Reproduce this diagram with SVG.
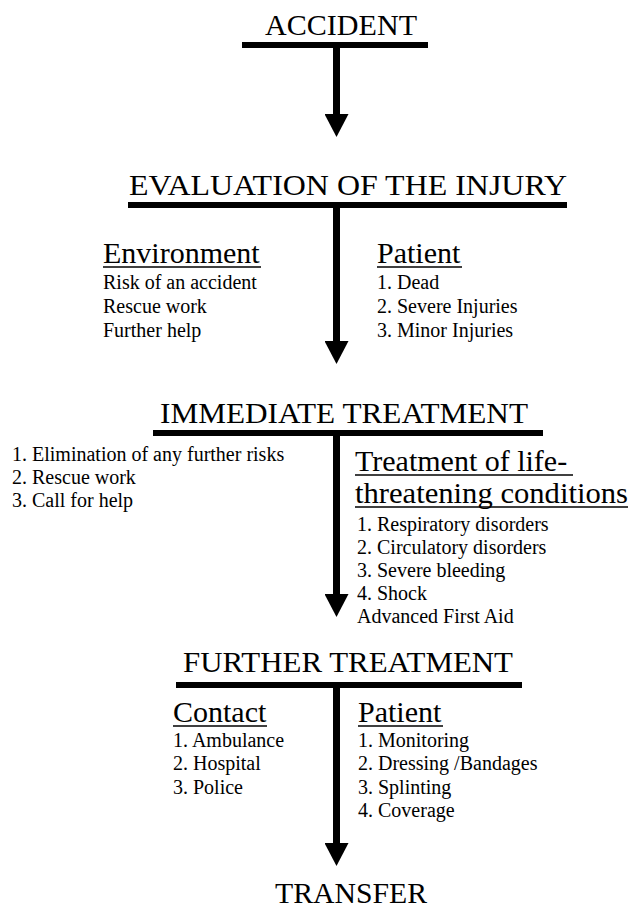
<svg xmlns="http://www.w3.org/2000/svg" width="631" height="911" viewBox="0 0 631 911" font-family="Liberation Serif, DejaVu Serif, serif">
<style>
  .h { font-size: 30px; }
  .s { font-size: 30px; }
  .b { font-size: 20px; }
  .bar { fill: #000; }
  .ul { stroke: #000; stroke-width: 1.6; }
  .stem { stroke: #000; stroke-width: 7; fill: none; }
</style>
<defs>
  <marker id="head" markerUnits="userSpaceOnUse" viewBox="0 0 23 24" markerWidth="23" markerHeight="24" refX="0" refY="12" orient="auto">
    <path d="M0,0 L23,12 L0,24 Z" fill="#000"/>
  </marker>
</defs>
<rect width="631" height="911" fill="#fff"/>

<g id="accident">
  <text class="h" font-family="Liberation Serif, serif" x="265" y="35" textLength="152" lengthAdjust="spacingAndGlyphs">ACCIDENT</text>
  <rect class="bar" x="242" y="42" width="186" height="6"/>
</g>

<g id="evaluation">
  <text class="h" font-family="Liberation Serif, serif" x="129" y="195" textLength="438" lengthAdjust="spacingAndGlyphs">EVALUATION OF THE  INJURY</text>
  <rect class="bar" x="128" y="202" width="439" height="6"/>
</g>

<g id="environment" font-family="Liberation Serif, serif">
  <text class="s" x="103" y="263">Environment</text>
  <line class="ul" x1="103" y1="267" x2="261" y2="267"/>
  <text class="b" x="103" y="289">Risk of an accident</text>
  <text class="b" x="103" y="313">Rescue work</text>
  <text class="b" x="103" y="337">Further help</text>
</g>

<g id="patient-eval" font-family="Liberation Serif, serif">
  <text class="s" x="377" y="263">Patient</text>
  <line class="ul" x1="377" y1="267" x2="462" y2="267"/>
  <text class="b" x="377" y="289">1. Dead</text>
  <text class="b" x="377" y="313">2. Severe Injuries</text>
  <text class="b" x="377" y="337">3. Minor Injuries</text>
</g>

<g id="immediate" font-family="Liberation Serif, serif">
  <text class="h" x="160" y="423" textLength="368" lengthAdjust="spacingAndGlyphs">IMMEDIATE TREATMENT</text>
  <rect class="bar" x="153" y="430" width="390" height="6"/>
</g>

<g id="immediate-actions" font-family="Liberation Serif, serif">
  <text class="b" x="12" y="461">1. Elimination of any further risks</text>
  <text class="b" x="12" y="484">2. Rescue work</text>
  <text class="b" x="12" y="507">3. Call for help</text>
</g>

<g id="life-threatening" font-family="Liberation Serif, serif">
  <text class="s" x="355" y="471">Treatment of life-</text>
  <line class="ul" x1="355" y1="475" x2="573" y2="475"/>
  <text class="s" x="355" y="503" textLength="273" lengthAdjust="spacingAndGlyphs">threatening conditions</text>
  <line class="ul" x1="355" y1="507" x2="628" y2="507"/>
  <text class="b" x="357" y="531">1. Respiratory disorders</text>
  <text class="b" x="357" y="554">2. Circulatory disorders</text>
  <text class="b" x="357" y="577">3. Severe bleeding</text>
  <text class="b" x="357" y="600">4. Shock</text>
  <text class="b" x="357" y="623">Advanced First Aid</text>
</g>

<g id="further" font-family="Liberation Serif, serif">
  <text class="h" x="183" y="672" textLength="330" lengthAdjust="spacingAndGlyphs">FURTHER TREATMENT</text>
  <rect class="bar" x="176" y="682" width="346" height="6"/>
</g>

<g id="contact" font-family="Liberation Serif, serif">
  <text class="s" x="173" y="722">Contact</text>
  <line class="ul" x1="173" y1="726" x2="267" y2="726"/>
  <text class="b" x="173" y="747">1. Ambulance</text>
  <text class="b" x="173" y="770">2. Hospital</text>
  <text class="b" x="173" y="794">3. Police</text>
</g>

<g id="patient-further" font-family="Liberation Serif, serif">
  <text class="s" x="358" y="722">Patient</text>
  <line class="ul" x1="358" y1="726" x2="443" y2="726"/>
  <text class="b" x="358" y="747">1. Monitoring</text>
  <text class="b" x="358" y="770">2. Dressing /Bandages</text>
  <text class="b" x="358" y="794">3. Splinting</text>
  <text class="b" x="358" y="817">4. Coverage</text>
</g>

<g id="transfer" font-family="Liberation Serif, serif">
  <text class="h" x="275" y="903" textLength="152" lengthAdjust="spacingAndGlyphs">TRANSFER</text>
</g>

<g id="connectors">
  <line class="stem" x1="336.5" y1="47" x2="336.5" y2="114" marker-end="url(#head)"/>
  <line class="stem" x1="336.5" y1="207" x2="336.5" y2="341" marker-end="url(#head)"/>
  <line class="stem" x1="336.5" y1="435" x2="336.5" y2="594" marker-end="url(#head)"/>
  <line class="stem" x1="336.5" y1="687" x2="336.5" y2="843" marker-end="url(#head)"/>
</g>
</svg>
